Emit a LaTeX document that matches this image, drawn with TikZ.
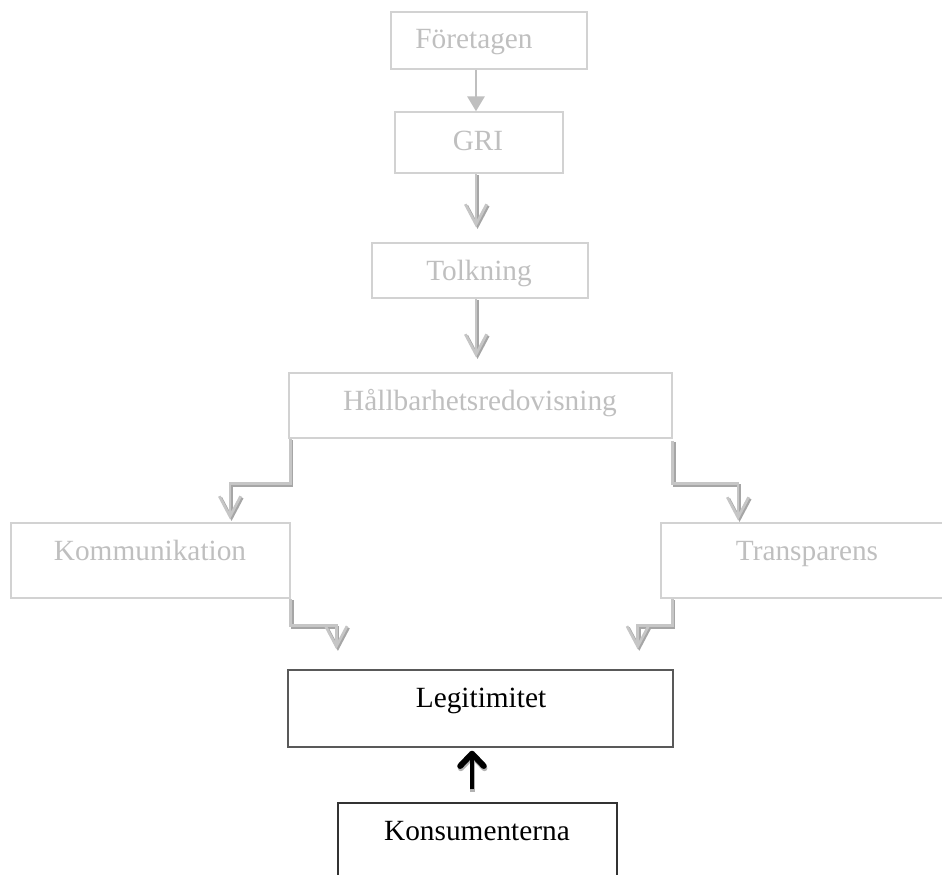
\documentclass[tikz,border=0pt]{standalone}
\usepackage{fontspec}
\setmainfont{Liberation Serif}
\usetikzlibrary{arrows.meta,calc}
\newcommand\upx{0.4433pt}
\begin{document}
\begin{tikzpicture}[x=0.4433pt,y=-0.4433pt,
  gbox/.style={draw=gray!35, line width=0.6pt, rectangle, inner sep=0pt},
  bbox/.style={draw=black!80, line width=0.6pt, rectangle, inner sep=0pt},
  gtxt/.style={text=gray!50, font=\fontsize{13pt}{15pt}\selectfont, inner sep=0pt, anchor=base},
  btxt/.style={text=black, font=\fontsize{13pt}{15pt}\selectfont, inner sep=0pt, anchor=base},
  vtip/.style={-{Straight Barb[length=9pt,width=9.5pt,line width=1.2pt]}},
  conn/.style={draw=gray!45, line width=1.3pt, line join=miter,
    preaction={draw=gray!70, line width=1.3pt, transform canvas={xshift=0.7pt,yshift=-0.7pt}}},
]
\useasboundingbox (0,0) rectangle (942,874);
\clip (0,0) rectangle (942,874);

% boxes
\node[gbox, minimum width=196*\upx, minimum height=57*\upx] (fore) at (489,40.5) {};
\node[gtxt] (foret) at (474,48) {Företagen};
\node[gbox, minimum width=168*\upx, minimum height=61*\upx] (gri) at (479,142.5) {};
\node[gtxt] (grit) at (478,150) {GRI};
\node[gbox, minimum width=216*\upx, minimum height=55*\upx] (tolk) at (480,270.5) {};
\node[gtxt] (tolkt) at (479,280) {Tolkning};
\node[gbox, minimum width=383*\upx, minimum height=65*\upx] (hall) at (480.5,405.5) {};
\node[gtxt] (hallt) at (480,410) {Hållbarhetsredovisning};
\node[gbox, minimum width=279*\upx, minimum height=75*\upx] (komm) at (150.5,560.5) {};
\node[gtxt] (kommt) at (150,560) {Kommunikation};
\node[gbox, minimum width=292*\upx, minimum height=75*\upx] (trans) at (807,560.5) {};
\node[gtxt] (transt) at (807,560) {Transparens};
\node[bbox, draw=black!65, minimum width=385*\upx, minimum height=77*\upx] (leg) at (480.5,708.5) {};
\node[btxt] (legt) at (481,707) {Legitimitet};
\node[bbox, minimum width=279*\upx, minimum height=120*\upx] (kons) at (477.5,863) {};
\node[btxt] (konst) at (477,840) {Konsumenterna};

% connectors
\draw[draw=gray!50, line width=1.3pt, -{Triangle[length=6.6pt,width=7.5pt]}]
  ($(fore.south)+(-13,0)$) -- ($(gri.north)+(-3,0)$);
\draw[conn, vtip, shorten >=15*\upx] ($(gri.south)+(-3,0)$) -- ($(tolk.north)+(-4,0)$);
\draw[conn, vtip, shorten >=15*\upx] ($(tolk.south)+(-4,0)$) -- ($(hall.north)+(-4.5,0)$);
\draw[conn, vtip, shorten >=3*\upx] ($(hall.south west)+(2,0)$) -- ++(0,45) -| ($(komm.north)+(79.5,0)$);
\draw[conn, vtip, shorten >=2*\upx] ($(hall.south east)+(0,2)$) -- ++(0,43) -| ($(trans.north)+(-69,0)$);
\draw[conn, vtip, shorten >=20*\upx] (komm.south east) -- ++(0,27) -| ($(leg.north west)+(49,0)$);
\draw[conn, vtip, shorten >=20*\upx] ($(trans.south west)+(12,0)$) -- ++(0,27) -| ($(leg.north east)+(-36,0)$);
\draw[line width=2.2pt, -{Straight Barb[length=5.5pt,width=10.5pt,line width=2.6pt,round]},
  preaction={draw=gray!60, line width=2.2pt, transform canvas={xshift=0.3pt,yshift=-1pt}}]
  ($(kons.north)+(-5.5,-13)$) -- ($(leg.south)+(-8.5,3)$);
\end{tikzpicture}
\end{document}
